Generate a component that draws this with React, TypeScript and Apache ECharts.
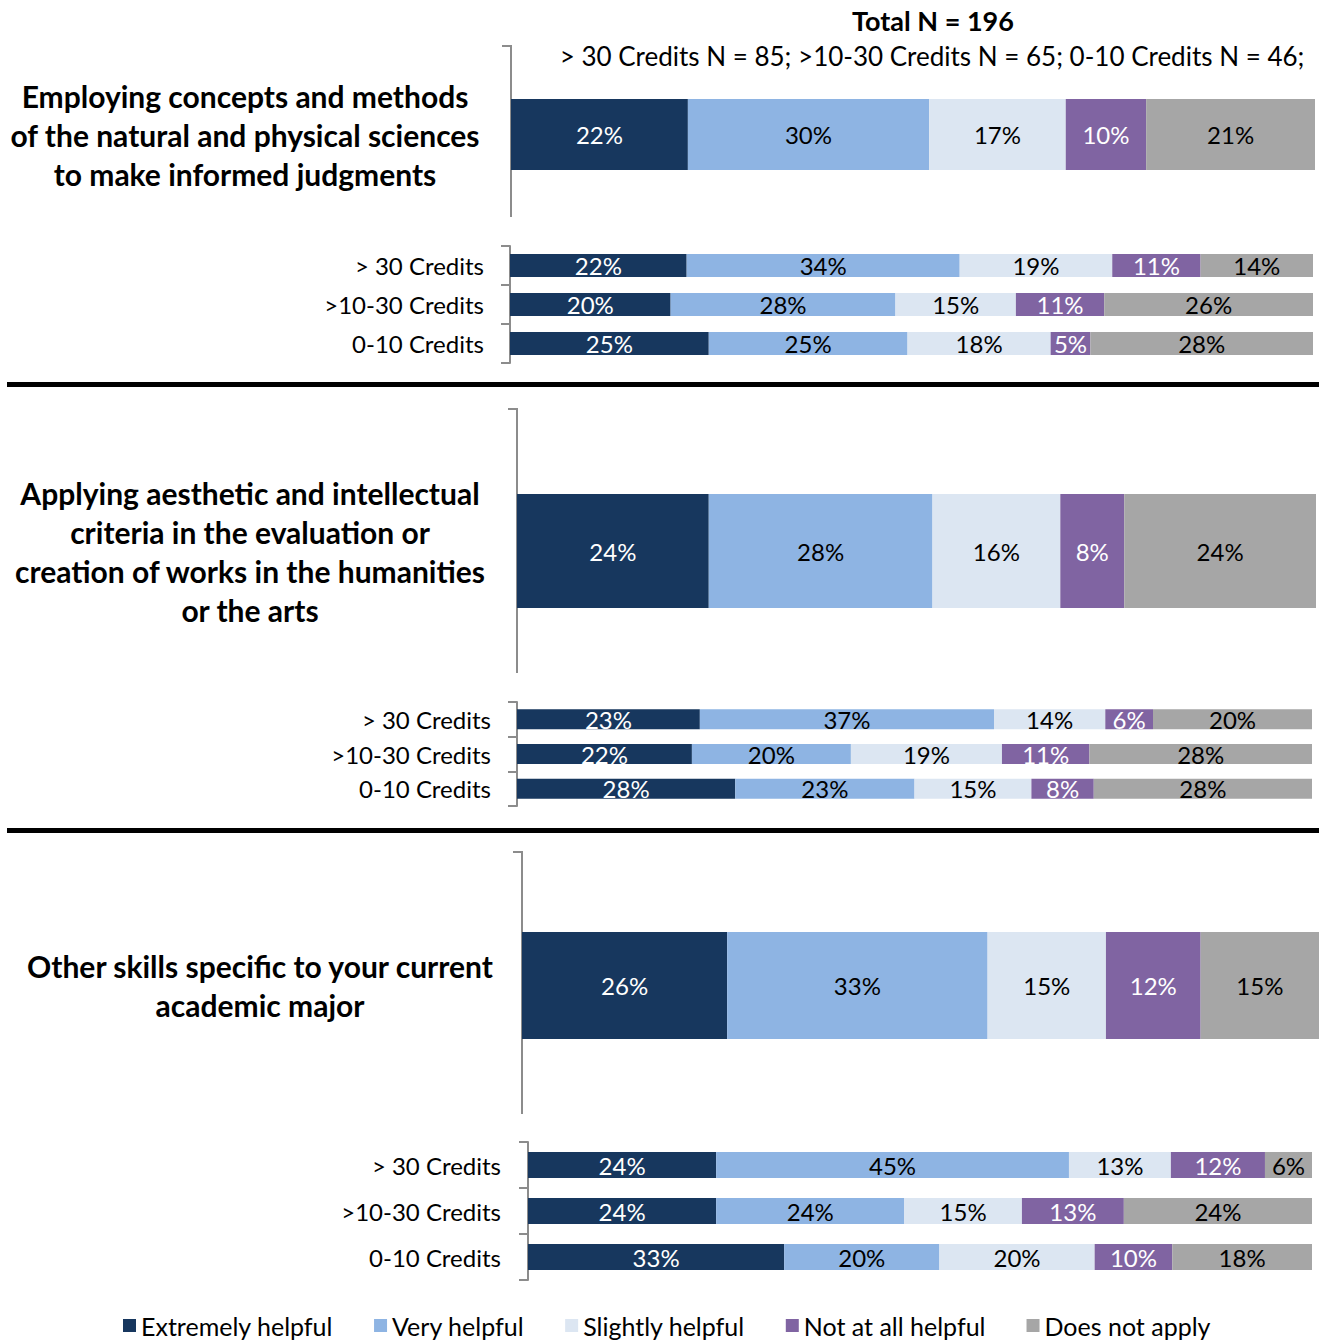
import React, { useEffect, useRef } from "react";
import * as echarts from "echarts";

// ---------- data ----------
const seriesNames = ["Extremely helpful", "Very helpful", "Slightly helpful", "Not at all helpful", "Does not apply"];
const subCategories = ["> 30 Credits", ">10-30 Credits", "0-10 Credits"];
const panelTitles = [
  "Employing concepts and methods\nof the natural and physical sciences\nto make informed judgments",
  "Applying aesthetic and intellectual\ncriteria in the evaluation or\ncreation of works in the humanities\nor the arts",
  "Other skills specific to your current\nacademic major",
];
const headerTitle = "Total N = 196";
const headerSubtitle = "> 30 Credits N = 85; >10-30 Credits N = 65; 0-10 Credits N = 46;";

// panel 1: natural & physical sciences
const p1Total = [22, 30, 17, 10, 21];
const p1Over30 = [22, 34, 19, 11, 14];
const p1Mid = [20, 28, 15, 11, 26];
const p1Low = [25, 25, 18, 5, 28];
// panel 2: humanities / arts
const p2Total = [24, 28, 16, 8, 24];
const p2Over30 = [23, 37, 14, 6, 20];
const p2Mid = [22, 20, 19, 11, 28];
const p2Low = [28, 23, 15, 8, 28];
// panel 3: academic major
const p3Total = [26, 33, 15, 12, 15];
const p3Over30 = [24, 45, 13, 12, 6];
const p3Mid = [24, 24, 15, 13, 24];
const p3Low = [33, 20, 20, 10, 18];

// ---------- styles ----------
const colors = ["#17375E", "#8EB4E3", "#DCE6F2", "#8064A2", "#A6A6A6"];
const labelColors = ["#ffffff", "#000000", "#000000", "#ffffff", "#000000"];
const FONT = "Lato, 'Noto Sans', sans-serif";
const AXIS_COLOR = "#8c8c8c";

type Row = {
  values: number[];
  label: string;
  main: boolean;
  left: number;
  right: number;
  top: number;
  height: number;
  barWidth: number;
  margin: number;
};

const panelData = [
  { total: p1Total, subs: [p1Over30, p1Mid, p1Low] },
  { total: p2Total, subs: [p2Over30, p2Mid, p2Low] },
  { total: p3Total, subs: [p3Over30, p3Mid, p3Low] },
];

const panelLayout = [
  { main: { left: 511, right: 4, top: 49, height: 171, barWidth: 71, margin: 266 },
    bracket: { x: 511, y1: 46, y2: 217 },
    sub: { left: 510, right: 6, top: 246, band: 39, barWidth: 23, margin: 26 } },
  { main: { left: 517, right: 3, top: 419, height: 264, barWidth: 114, margin: 267 },
    bracket: { x: 517, y1: 409, y2: 673 },
    sub: { left: 517, right: 7, top: 702, band: 34.67, barWidth: 20, margin: 26 } },
  { main: { left: 522, right: 0, top: 854.5, height: 262, barWidth: 107, margin: 262 },
    bracket: { x: 522, y1: 852, y2: 1114 },
    sub: { left: 528, right: 7, top: 1142, band: 46, barWidth: 26, margin: 27 } },
];

function buildRows(): Row[] {
  const rows: Row[] = [];
  panelData.forEach((p, pi) => {
    const L = panelLayout[pi];
    rows.push({ values: p.total, label: panelTitles[pi], main: true, ...L.main });
    p.subs.forEach((vals, si) => {
      rows.push({
        values: vals,
        label: subCategories[si],
        main: false,
        left: L.sub.left,
        right: L.sub.right,
        top: L.sub.top + si * L.sub.band,
        height: L.sub.band,
        barWidth: L.sub.barWidth,
        margin: L.sub.margin,
      });
    });
  });
  return rows;
}

export default function App() {
  const ref = useRef<HTMLDivElement>(null);
  useEffect(() => {
    if (!ref.current) return;
    const chart = echarts.init(ref.current, undefined, { renderer: "svg" });
    const rows = buildRows();
    const grid: any[] = [];
    const xAxis: any[] = [];
    const yAxis: any[] = [];
    const series: any[] = [];
    rows.forEach((r, i) => {
      grid.push({ left: r.left, right: r.right, top: r.top, height: r.height, containLabel: false });
      const sum = r.values.reduce((a, b) => a + b, 0);
      xAxis.push({ type: "value", gridIndex: i, min: 0, max: sum, show: false });
      yAxis.push({
        type: "category",
        gridIndex: i,
        data: [r.label],
        axisLine: { show: !r.main, lineStyle: { color: AXIS_COLOR, width: 2 } },
        axisTick: { show: !r.main, length: 9, lineStyle: { color: AXIS_COLOR, width: 2 } },
        axisLabel: r.main
          ? { margin: r.margin, align: "center", fontFamily: FONT, fontSize: 30, fontWeight: "bold", color: "#000", lineHeight: 39, padding: [0, 0, 5, 0] }
          : { margin: r.margin, fontFamily: FONT, fontSize: 24, color: "#000" },
      });
      r.values.forEach((v, j) => {
        series.push({
          type: "bar",
          name: seriesNames[j],
          xAxisIndex: i,
          yAxisIndex: i,
          stack: "row" + i,
          barWidth: r.barWidth,
          data: [v],
          itemStyle: { color: colors[j] },
          label: {
            show: true,
            position: "inside",
            formatter: "{c}%",
            color: labelColors[j],
            fontFamily: FONT,
            fontSize: 24,
          },
        });
      });
    });

    const brackets = panelLayout.map((p) => ({
      type: "polyline",
      shape: { points: [[p.bracket.x - 9, p.bracket.y1], [p.bracket.x, p.bracket.y1], [p.bracket.x, p.bracket.y2]] },
      style: { stroke: AXIS_COLOR, lineWidth: 2, fill: null },
    }));

    chart.setOption({
      animation: false,
      backgroundColor: "#ffffff",
      grid,
      xAxis,
      yAxis,
      series,
      legend: {
        data: seriesNames,
        left: 118,
        top: 1308,
        icon: "rect",
        itemWidth: 13,
        itemHeight: 13,
        itemGap: 41,
        textStyle: { fontFamily: FONT, fontSize: 25, color: "#000" },
      },
      graphic: [
        {
          type: "text",
          x: 933,
          y: 20,
          style: { text: headerTitle, align: "center", verticalAlign: "middle", fontFamily: FONT, fontSize: 27, fontWeight: "bold", fill: "#000" },
        },
        {
          type: "text",
          x: 932,
          y: 56,
          style: { text: headerSubtitle, align: "center", verticalAlign: "middle", fontFamily: FONT, fontSize: 26, fill: "#000" },
        },
        { type: "line", shape: { x1: 7, y1: 384.5, x2: 1319, y2: 384.5 }, style: { stroke: "#000", lineWidth: 5 } },
        { type: "line", shape: { x1: 7, y1: 830.5, x2: 1319, y2: 830.5 }, style: { stroke: "#000", lineWidth: 5 } },
        ...brackets,
      ],
    });
    return () => chart.dispose();
  }, []);
  return <div ref={ref} style={{ position: "fixed", left: 0, top: 0, width: 1319, height: 1341 }} />;
}
